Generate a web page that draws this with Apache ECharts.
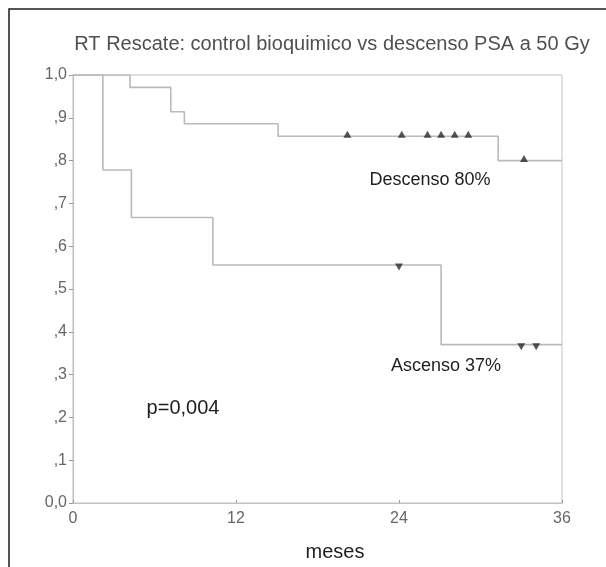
<!DOCTYPE html>
<html>
<head>
<meta charset="utf-8">
<script src="https://cdn.jsdelivr.net/npm/echarts@6/dist/echarts.min.js"></script>
<style>
  html, body { margin: 0; padding: 0; background: #ffffff; }
  #chart { width: 606px; height: 567px; }
</style>
</head>
<body>
<div id="chart"></div>
<script>
// Kaplan-Meier estimates (months, proportion free of biochemical relapse)
const descensoTimes = [0, 4.2, 7.2, 8.2, 15.1, 31.3, 36];
const descensoSurv  = [1.0, 0.971, 0.914, 0.886, 0.857, 0.80, 0.80];
const descensoCensored = [20.2, 24.2, 26.1, 27.1, 28.1, 29.1, 33.2];

const ascensoTimes = [0, 2.2, 4.3, 10.3, 27.1, 36];
const ascensoSurv  = [1.0, 0.778, 0.667, 0.556, 0.370, 0.370];
const ascensoCensored = [24.0, 33.0, 34.1];

const xTicks = [0, 12, 24, 36];
const yTickLabels = ['0,0', ',1', ',2', ',3', ',4', ',5', ',6', ',7', ',8', ',9', '1,0'];

const titleText = 'RT Rescate: control bioquimico vs descenso PSA a 50 Gy';
const xName = 'meses';
const descensoLabel = 'Descenso 80%';
const ascensoLabel = 'Ascenso 37%';
const pLabel = 'p=0,004';

// value of a step function at time t
function stepValue(times, surv, t) {
  let v = surv[0];
  for (let i = 0; i < times.length; i++) {
    if (times[i] <= t) v = surv[i];
  }
  return v;
}
const pairs = (xs, ys) => xs.map((x, i) => [x, ys[i]]);
const censorPoints = (ts, times, surv) => ts.map(t => [t, stepValue(times, surv, t)]);

const curveColor = '#bababa';
const frameColor = '#c2c2c2';
const font = 'Arial, "Liberation Sans", sans-serif';

const chart = echarts.init(document.getElementById('chart'), null, { renderer: 'canvas' });

chart.setOption({
  backgroundColor: '#ffffff',
  animation: false,
  grid: {
    left: 73, right: 44, top: 75, bottom: 64,
    show: true, borderColor: frameColor, borderWidth: 1, backgroundColor: 'transparent'
  },
  xAxis: {
    type: 'value', min: 0, max: 36, interval: 12,
    axisLine: { show: true, lineStyle: { color: frameColor, width: 1.2 } },
    axisTick: { show: true, inside: true, length: 3, lineStyle: { color: '#999' } },
    splitLine: { show: false },
    axisLabel: {
      color: '#666666', fontFamily: font, fontSize: 16, margin: 8,
      formatter: v => (xTicks.indexOf(v) >= 0 ? String(v) : '')
    }
  },
  yAxis: {
    type: 'value', min: 0, max: 1, interval: 0.1,
    axisLine: { show: true, lineStyle: { color: frameColor, width: 1.2 } },
    axisTick: { show: true, inside: false, length: 4, lineStyle: { color: '#999' } },
    splitLine: { show: false },
    axisLabel: {
      color: '#666666', fontFamily: font, fontSize: 16, margin: 6,
      formatter: v => yTickLabels[Math.round(v * 10)]
    }
  },
  series: [
    {
      name: 'Descenso', type: 'line', step: 'end', showSymbol: false,
      data: pairs(descensoTimes, descensoSurv),
      lineStyle: { color: curveColor, width: 1.6 }, z: 3
    },
    {
      name: 'Ascenso', type: 'line', step: 'end', showSymbol: false,
      data: pairs(ascensoTimes, ascensoSurv),
      lineStyle: { color: curveColor, width: 1.6 }, z: 3
    },
    {
      name: 'Descenso censurados', type: 'scatter',
      data: censorPoints(descensoCensored, descensoTimes, descensoSurv),
      symbol: 'triangle', symbolSize: [8, 7], symbolOffset: [0, -2],
      itemStyle: { color: '#2a2a2a' }, z: 4
    },
    {
      name: 'Ascenso censurados', type: 'scatter',
      data: censorPoints(ascensoCensored, ascensoTimes, ascensoSurv),
      symbol: 'triangle', symbolRotate: 180, symbolSize: [8, 7], symbolOffset: [0, 2],
      itemStyle: { color: '#2a2a2a' }, z: 4
    }
  ],
  graphic: [
    {
      type: 'rect', silent: true, z: 0,
      shape: { x: 9, y: 9, width: 640, height: 620 },
      style: { fill: 'none', stroke: '#1e1e1e', lineWidth: 1.5 }
    },
    {
      type: 'text', x: 332, y: 44,
      style: { text: titleText, fill: '#505050', font: '20px ' + font, textAlign: 'center', textVerticalAlign: 'middle' }
    },
    {
      type: 'text', x: 430, y: 180,
      style: { text: descensoLabel, fill: '#1e1e1e', font: '18px ' + font, textAlign: 'center', textVerticalAlign: 'middle' }
    },
    {
      type: 'text', x: 446, y: 366,
      style: { text: ascensoLabel, fill: '#1e1e1e', font: '18px ' + font, textAlign: 'center', textVerticalAlign: 'middle' }
    },
    {
      type: 'text', x: 183, y: 408,
      style: { text: pLabel, fill: '#1e1e1e', font: '20px ' + font, textAlign: 'center', textVerticalAlign: 'middle' }
    },
    {
      type: 'text', x: 335, y: 552,
      style: { text: xName, fill: '#1e1e1e', font: '20px ' + font, textAlign: 'center', textVerticalAlign: 'middle' }
    }
  ]
});
</script>
</body>
</html>
